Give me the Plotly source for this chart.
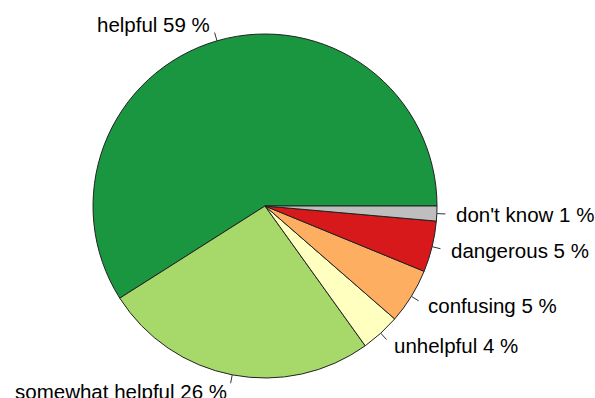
import math
import plotly.graph_objects as go

categories = ["helpful", "somewhat helpful", "unhelpful", "confusing", "dangerous", "don't know"]
shares = [59.0, 25.9, 3.7, 5.2, 4.8, 1.4]
colors = ["#1A9641", "#A6D96A", "#FFFFBF", "#FDAE61", "#D7191C", "#BEBEBE"]

W, H = 595, 398
CX, CY, R = 265, 206, 172  # pixel geometry of the pie (top-left origin)

total = sum(shares)
# plotly's counterclockwise pies place the first slice so that it ends at 'rotation';
# we want it to start at 3 o'clock (R's default init.angle = 0) and run counterclockwise.
rotation = 90 - 360 * shares[0] / total

fig = go.Figure(go.Pie(
    labels=categories,
    values=shares,
    sort=False,
    direction="counterclockwise",
    rotation=rotation,
    marker=dict(colors=colors, line=dict(color="#222222", width=1)),
    textinfo="none",
    hoverinfo="label+percent",
    showlegend=False,
    domain=dict(x=[(CX - R) / W, (CX + R) / W],
                y=[(H - CY - R) / H, (H - CY + R) / H]),
))

cum = 0.0
annotations = []
shapes = []
for cat, v in zip(categories, shares):
    mid = (cum + v / 2) / total * 2 * math.pi
    cum += v
    c, s = math.cos(mid), math.sin(mid)
    x0, y0 = CX + R * c, CY - R * s
    x1, y1 = CX + 1.05 * R * c, CY - 1.05 * R * s
    xt, yt = CX + 1.1 * R * c, CY - 1.1 * R * s
    shapes.append(dict(type="line", xref="paper", yref="paper",
                       x0=x0 / W, y0=1 - y0 / H, x1=x1 / W, y1=1 - y1 / H,
                       line=dict(color="#333333", width=1)))
    annotations.append(dict(
        x=xt / W, y=1 - yt / H, xref="paper", yref="paper",
        text=f"{cat} {round(v / total * 100)} %", showarrow=False,
        xanchor="left" if c > 0 else "right", yanchor="middle",
        font=dict(family="Liberation Sans, Arial, sans-serif", size=20.5, color="#000000"),
    ))

fig.update_layout(
    width=W, height=H,
    margin=dict(l=0, r=0, t=0, b=0),
    paper_bgcolor="white", plot_bgcolor="white",
    annotations=annotations, shapes=shapes,
)

fig.write_html("out.html")
